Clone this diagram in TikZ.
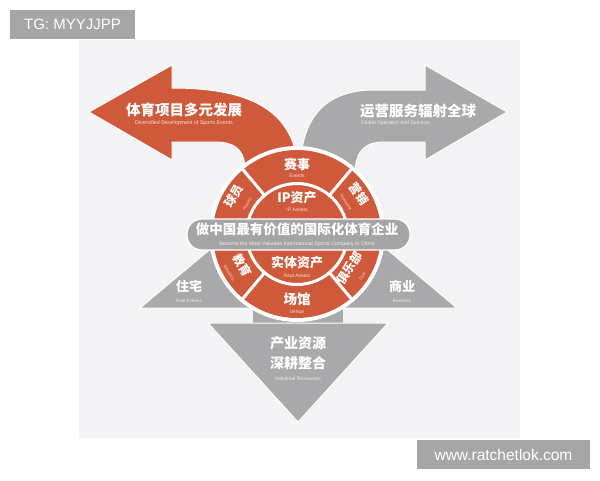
\documentclass[tikz,border=0pt]{standalone}
\usepackage{fontspec}
\setmainfont{Liberation Sans}
\newfontfamily\cjk{Noto Sans CJK SC}
\newfontfamily\enf{Liberation Sans}
\definecolor{org}{HTML}{CF5A3B}
\definecolor{gry}{HTML}{A9A8AA}
\definecolor{bann}{HTML}{A4A3A5}
\definecolor{panel}{HTML}{F3F2F4}
\definecolor{tag}{HTML}{A6A6A6}
\tikzset{
  cn/.style={text=white, inner sep=0pt, align=center, font=\cjk\bfseries},
  enorg/.style={text=white!80!org, inner sep=0pt, font=\enf},
  engry/.style={text=white!80!gry, inner sep=0pt, font=\enf},
  tagbox/.style={fill=tag, text=white, inner sep=0pt, font=\enf},
  shapeorg/.style={fill=org, draw=white, line width=1pt},
  shapegry/.style={fill=gry, draw=white, line width=1pt},
  sep/.style={draw=white, line width=3pt},
}
\newcommand{\fs}[1]{\fontsize{#1}{#1}\selectfont}
\newcommand{\subl}[1]{{\enf\mdseries\color{white!80!org}\fs{4}#1}}
\begin{document}
\begin{tikzpicture}[x=1pt,y=-1pt]
\useasboundingbox (0,0) rectangle (600,480);
\fill[white] (0,0) rectangle (600,480);
\fill[panel] (79,40) rectangle (520,438);

% tags
\node[tagbox, minimum width=125pt, minimum height=29pt] (tg) at (72.5,24.5) {\fs{15}TG: MYYJJPP};
\node[tagbox, minimum width=173pt, minimum height=29pt] (web) at (503.5,454.5) {\fs{15.5}www.ratchetlok.com};

\coordinate (c) at (297,234);

% lower gray shapes
\path[shapegry] (140,308) -- (214,246) -- (262,246) -- (262,308) -- cycle;
\path[shapegry] (457,308) -- (383,246) -- (334,246) -- (334,308) -- cycle;
\path[fill=gry] (253,280) rectangle (343,324);
\path[shapegry] (208,323) -- (388,323) -- (298,422) -- cycle;

% upper arrows
\path[shapeorg] (89,112) -- (172,65) -- (172,88) .. controls (250,88) and (292,110) .. (298,165)
   -- (245,165) .. controls (243,150) and (235,142) .. (215,142) -- (172,142) -- (172,160) -- cycle;
\path[shapegry] (507,112) -- (425,65) -- (425,90) -- (370,90) .. controls (322,92) and (303,120) .. (300,165)
   -- (355,170) .. controls (357,150) and (365,142) .. (385,142) -- (425,142) -- (425,160) -- cycle;

% ring
\fill[white] (c) circle[radius=88pt];
\fill[org] (c) circle[radius=84pt];
\draw[sep] (c) circle[radius=50.5pt];
\begin{scope}[shift={(c)}]
  \draw[sep] (50:49pt) -- (50:87pt);
  \draw[sep] (130:49pt) -- (130:87pt);
  \draw[sep] (-50:49pt) -- (-50:87pt);
  \draw[sep] (-130:49pt) -- (-130:87pt);
\end{scope}

% banner
\path[fill=bann, draw=white, line width=1.2pt, rounded corners=15pt] (187,219) rectangle (410,250);

% headings
\node[cn] (h1) at (184,110) {\fs{14.5}体育项目多元发展};
\node[enorg] (h1e) at (184,123) {\fs{5.3}Diversified Development of Sports Events};
\node[cn] (h2) at (418,111) {\fs{14.5}运营服务辐射全球};
\node[engry, anchor=west] (h2e) at (361,123) {\fs{5}Global Operation And Services};

% ring labels
\node[cn] (ev) at (297,164) {\fs{13}赛事};
\node[enorg] (eve) at (297,176) {\fs{5}Events};
\node[cn] (ip) at (297,198) {\fs{13}IP资产};
\node[enorg] (ipe) at (297,210) {\fs{5}IP Assets};
\node[cn] (ra) at (297,263) {\fs{13}实体资产};
\node[enorg] (rae) at (297,276) {\fs{5}Real Assets};
\node[cn] (vn) at (297,299) {\fs{13.5}场馆};
\node[enorg] (vne) at (297,312) {\fs{5}Venue};

\node[cn, rotate=59] (pl) at (239,199) {\fs{12}球员\\[0.5pt]\subl{Players}};
\node[cn, rotate=-56] (mk) at (354,197) {\fs{12}营销\\[0.5pt]\subl{Marketing}};
\node[cn, rotate=-60] (ed) at (238,268) {\fs{12}教育\\[0.5pt]\subl{Education}};
\node[cn, rotate=56] (cl) at (354,271) {\fs{12}俱乐部\\[0.5pt]\subl{Club}};

% banner text
\node[cn] (bt) at (297,229) {\fs{13.5}做中国最有价值的国际化体育企业};
\node[engry] (bte) at (297,244) {\fs{5.3}Become the Most Valuable International Sports Company in China};

% lower labels
\node[cn] (re) at (189,286) {\fs{13}住宅};
\node[engry] (ree) at (189,301) {\fs{4.5}Real Estates};
\node[cn] (bz) at (402,286) {\fs{13}商业};
\node[engry] (bze) at (402,301) {\fs{4.5}Business};
\node[cn] (ir1) at (298,343) {\fs{14}产业资源};
\node[cn] (ir2) at (298,363) {\fs{14}深耕整合};
\node[engry] (ire) at (298,379) {\fs{5}Industrial Resources};
\end{tikzpicture}
\end{document}
